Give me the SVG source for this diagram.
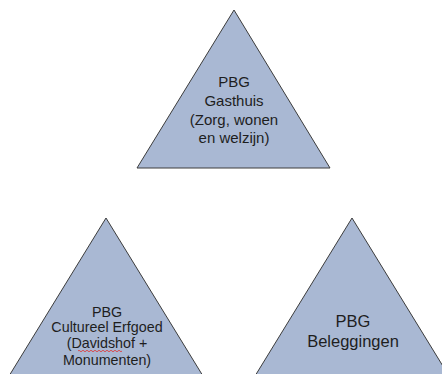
<svg xmlns="http://www.w3.org/2000/svg" width="442" height="374" viewBox="0 0 442 374">
<style>
.tri{fill:#a9b8d3;stroke:#3c3c3c;stroke-width:1}
text{font-family:"Liberation Sans",Arial,sans-serif;fill:#1e1e1e;text-anchor:middle}
</style>
<rect width="442" height="374" fill="#ffffff"/>
<g id="connectors"/>
<g id="gasthuis">
<polygon class="tri" points="234,10 137,168 330,168"/>
<text font-size="15"><tspan x="234" y="87">PBG</tspan><tspan x="234" y="106">Gasthuis</tspan><tspan x="234" y="124.5">(Zorg, wonen</tspan><tspan x="234" y="143">en welzijn)</tspan></text>
</g>
<g id="cultureel">
<polygon class="tri" points="106,218 9,376 203,376"/>
<text font-size="14.3"><tspan x="107" y="316.5">PBG</tspan><tspan x="107" y="332">Cultureel Erfgoed</tspan><tspan x="107" y="348">(Davidshof +</tspan><tspan x="107" y="364.5">Monumenten)</tspan></text>
<path d="M78,351 q1,-1.5 2,0 t2,0 t2,0 t2,0 t2,0 t2,0 t2,0 t2,0 t2,0 t2,0 t2,0 t2,0 t2,0 t2,0 t2,0 t2,0 t2,0 t2,0 t2,0 t2,0 t2,0 t2,0" fill="none" stroke="#e03030" stroke-width="0.8"/>
</g>
<g id="beleggingen">
<polygon class="tri" points="352,218 255,376 449,376"/>
<text font-size="16.5"><tspan x="353" y="327">PBG</tspan><tspan x="353" y="347">Beleggingen</tspan></text>
</g>
</svg>
